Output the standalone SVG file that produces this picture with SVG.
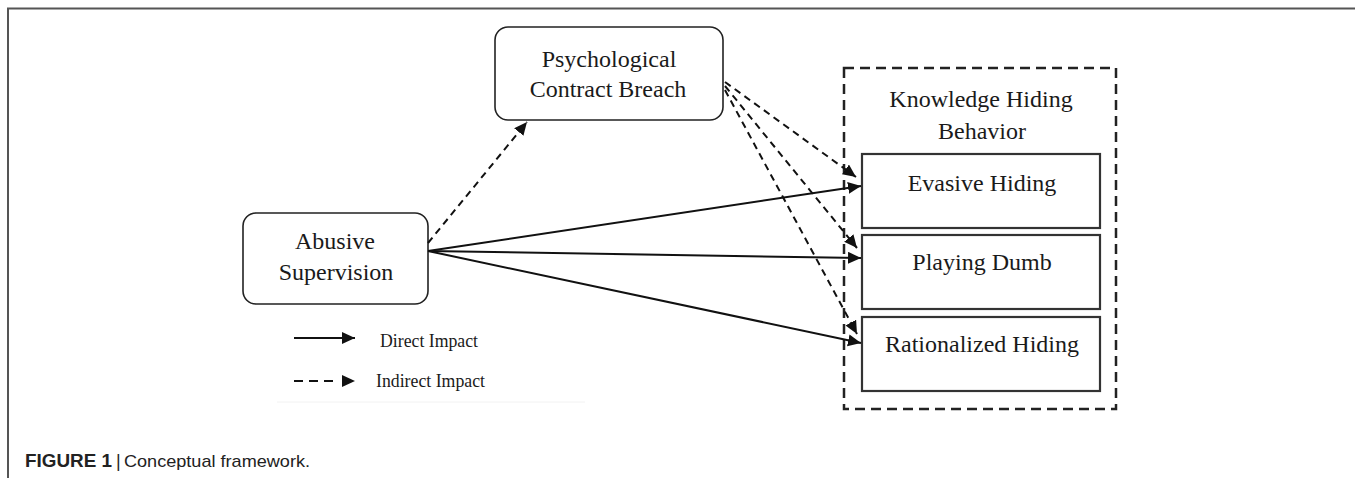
<svg xmlns="http://www.w3.org/2000/svg" width="1355" height="478" viewBox="0 0 1355 478">
<style>
.serif{font-family:"Liberation Serif","Times New Roman",serif;fill:#1a1a1a;}
.node{font-size:24px;text-anchor:middle;}
.legend{font-size:19px;}
.rbox{fill:#fff;stroke:#222;stroke-width:1.6;}
.sbox{fill:#fff;stroke:#333;stroke-width:2.2;}
.solid{stroke:#111;stroke-width:2;fill:none;}
.dash{stroke:#111;stroke-width:2;fill:none;stroke-dasharray:7 5;}
.cap{font-family:"Liberation Sans",Arial,sans-serif;fill:#222;}
</style>
<defs>
<marker id="ah" markerUnits="userSpaceOnUse" markerWidth="15" markerHeight="13" refX="13" refY="6" orient="auto">
<path d="M0,0 L13,6 L0,12 z" fill="#111"/>
</marker>
</defs>
<rect width="1355" height="478" fill="#fff"/>
<g id="frame">
<path d="M8,478 L8,8.5 L1355,8.5" fill="none" stroke="#555" stroke-width="2"/>
</g>
<g id="container">
<rect x="844" y="68" width="272" height="341" fill="none" stroke="#222" stroke-width="2.5" stroke-dasharray="10 6"/>
<text class="serif node" x="981" y="107">Knowledge Hiding</text>
<text class="serif node" x="982" y="139">Behavior</text>
</g>
<g id="node-psych">
<rect class="rbox" x="495" y="27" width="228" height="93" rx="13"/>
<text class="serif node" x="609" y="67">Psychological</text>
<text class="serif node" x="608" y="97">Contract Breach</text>
</g>
<g id="node-abusive">
<rect class="rbox" x="243" y="213" width="185" height="91" rx="13"/>
<text class="serif node" x="335" y="249">Abusive</text>
<text class="serif node" x="336" y="280">Supervision</text>
</g>
<g id="node-evasive">
<rect class="sbox" x="862" y="154" width="238" height="74"/>
<text class="serif node" x="982" y="191">Evasive Hiding</text>
</g>
<g id="node-dumb">
<rect class="sbox" x="862" y="235" width="238" height="74"/>
<text class="serif node" x="982" y="270">Playing Dumb</text>
</g>
<g id="node-rational">
<rect class="sbox" x="862" y="317" width="238" height="74"/>
<text class="serif node" x="982" y="352">Rationalized Hiding</text>
</g>
<g id="connectors">
<line class="dash" x1="428" y1="243" x2="527" y2="122" marker-end="url(#ah)"/>
<line class="solid" x1="428" y1="251" x2="861" y2="186" marker-end="url(#ah)"/>
<line class="solid" x1="428" y1="251" x2="861" y2="258" marker-end="url(#ah)"/>
<line class="solid" x1="428" y1="251" x2="861" y2="343" marker-end="url(#ah)"/>
<line class="dash" x1="725" y1="82" x2="856" y2="177" marker-end="url(#ah)"/>
<line class="dash" x1="725" y1="86" x2="857" y2="248" marker-end="url(#ah)"/>
<line class="dash" x1="725" y1="90" x2="857" y2="334" marker-end="url(#ah)"/>
</g>
<g id="legend">
<line class="solid" x1="294" y1="338" x2="355" y2="338" marker-end="url(#ah)"/>
<text class="serif legend" x="380" y="347" textLength="98" lengthAdjust="spacingAndGlyphs">Direct Impact</text>
<line class="solid" x1="294" y1="381" x2="355" y2="381" stroke-dasharray="9 6 9 6 9 100" marker-end="url(#ah)"/>
<text class="serif legend" x="376" y="387" textLength="109" lengthAdjust="spacingAndGlyphs">Indirect Impact</text>
<line x1="277" y1="402" x2="585" y2="402" stroke="#f2f2f2" stroke-width="1"/>
</g>
<g id="caption">
<text class="cap" x="25" y="467" font-size="18" font-weight="bold" textLength="87" lengthAdjust="spacingAndGlyphs">FIGURE 1</text>
<text class="cap" x="116" y="467" font-size="18">|</text>
<text class="cap" x="124" y="467" font-size="17" textLength="186" lengthAdjust="spacingAndGlyphs">Conceptual framework.</text>
</g>
</svg>
